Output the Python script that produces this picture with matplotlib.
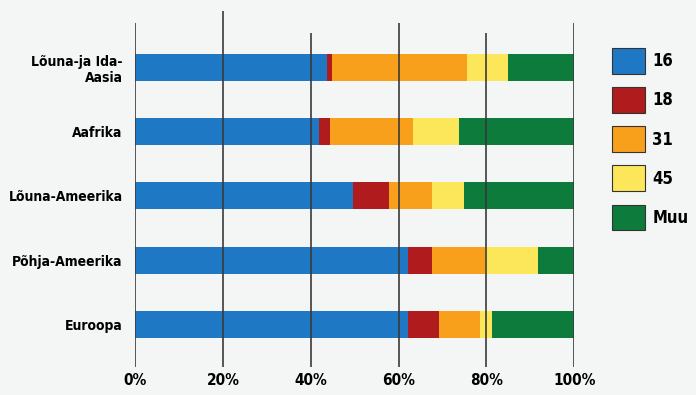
import matplotlib.pyplot as plt
import numpy as np
from matplotlib.patches import Patch

# Regions (top to bottom) and share of each segment, in percent
regions = ["Lõuna-ja Ida-\nAasia", "Aafrika", "Lõuna-Ameerika", "Põhja-Ameerika", "Euroopa"]
series = ["16", "18", "31", "45", "Muu"]
s16 = [43.7, 41.9, 49.6, 62.1, 62.1]
s18 = [1.2, 2.5, 8.3, 5.5, 7.2]
s31 = [30.7, 18.9, 9.7, 12.1, 9.3]
s45 = [9.4, 10.5, 7.2, 12.1, 2.7]
muu = [15.0, 26.2, 25.2, 8.2, 18.7]
ticks = [0, 20, 40, 60, 80, 100]
tick_labels = ["0%", "20%", "40%", "60%", "80%", "100%"]

colors = ["#1f78c4", "#b01b1d", "#f8a01c", "#fce65a", "#0d7b3b"]
font = ["DejaVu Sans"]

fig = plt.figure(figsize=(6.96, 3.95), dpi=100, facecolor="#f4f5f5")
ax = fig.add_axes([0.194, 0.0709, 0.631, 0.901])
ax.set_facecolor("none")

y = np.arange(len(regions))
left = np.zeros(len(regions))
for vals, col, name in zip([s16, s18, s31, s45, muu], colors, series):
    ax.barh(y, vals, left=left, height=0.42, color=col, label=name, zorder=2)
    left += np.array(vals)

# gridlines (slightly uneven tops as in the original)
tops = [-0.683, -0.87, -0.528, -0.683, -0.528, -0.683]
ax.vlines(ticks, tops, 4.66, color="#3a3a3a", lw=1.2, zorder=3)

ax.set_xlim(0, 100)
ax.set_ylim(4.66, -0.87)
ax.set_yticks(y)
ax.set_yticklabels(regions, fontsize=10, fontweight="bold", family=font,
                   fontstretch="condensed", linespacing=1.2)
ax.set_xticks(ticks)
ax.set_xticklabels(tick_labels, fontsize=11, fontweight="bold", family=font,
                   fontstretch="condensed")
ax.tick_params(length=0, pad=4)
ax.tick_params(axis="y", pad=9)
for sp in ax.spines.values():
    sp.set_visible(False)

handles = [Patch(facecolor=c, edgecolor="#333333", lw=0.8) for c in colors]
leg = fig.legend(handles, series, loc="upper left", bbox_to_anchor=(0.879, 0.878),
                 frameon=False, borderpad=0, borderaxespad=0,
                 handlelength=1.98, handleheight=2.0,
                 labelspacing=0.8, handletextpad=0.45,
                 prop={"family": font, "weight": "bold", "size": 12,
                       "stretch": "condensed"})

fig.savefig("out.png", dpi=100, facecolor=fig.get_facecolor())
